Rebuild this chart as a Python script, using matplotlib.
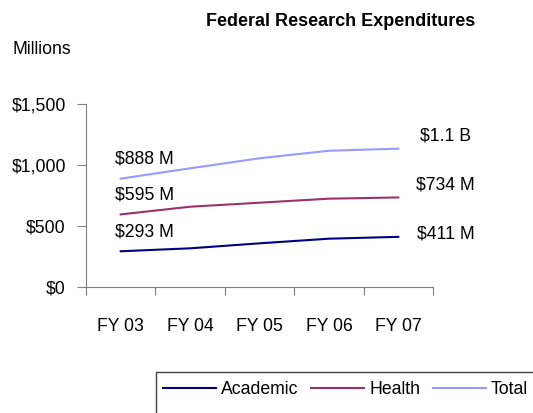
import matplotlib
matplotlib.use("Agg")
import matplotlib.pyplot as plt
from matplotlib.patches import Rectangle

plt.rcParams['font.family'] = ['Liberation Sans', 'DejaVu Sans']

# Federal research expenditures, millions of dollars
years = ['FY 03', 'FY 04', 'FY 05', 'FY 06', 'FY 07']
academic = [293, 317, 358, 396, 411]
health = [595, 658, 691, 724, 734]
total = [888, 973, 1055, 1117, 1134]

start_labels = ['$293 M', '$595 M', '$888 M']
end_labels = ['$411 M', '$734 M', '$1.1 B']

W, H = 533, 413
fig = plt.figure(figsize=(W/100, H/100), dpi=100)
ax = fig.add_axes([86/W, 1 - 287/H, (433 - 86)/W, (287 - 104)/H])

xs = [i + 0.5 for i in range(len(years))]
series = [('Academic', academic, '#000080'),
          ('Health', health, '#993366'),
          ('Total', total, '#9999FF')]
for name, vals, col in series:
    ax.plot(xs, vals, color=col, lw=1.5, label=name)

# value labels at both ends
fs = 12.7
for (name, vals, col), lab in zip(series, start_labels):
    ax.annotate(lab, (xs[0], vals[0]), xytext=(17, 14), textcoords='offset points',
                ha='center', va='center', fontsize=fs)
end_dy = [2, 9, 9]
for (name, vals, col), lab, dy in zip(series, end_labels, end_dy):
    ax.annotate(lab, (xs[-1], vals[-1]), xytext=(34, dy), textcoords='offset points',
                ha='center', va='center', fontsize=fs)

ax.set_xlim(0, 5)
ax.set_ylim(0, 1500)
ax.set_yticks([0, 500, 1000, 1500])
ax.set_yticklabels(['$0', '$500', '$1,000', '$1,500'], fontsize=fs)
ax.set_xticks(range(6))
ax.set_xticklabels([])
ax.set_xticks(xs, minor=True)
ax.set_xticklabels(years, minor=True, fontsize=fs)
ax.tick_params(axis='x', which='major', length=6, direction='out', color='#808080')
ax.tick_params(axis='x', which='minor', length=0, pad=22)
ax.tick_params(axis='y', length=6.5, pad=8, color='#808080')

for s in ['top', 'right']:
    ax.spines[s].set_visible(False)
for s in ['left', 'bottom']:
    ax.spines[s].set_color('#808080')

fig.text(341/W, 1 - 22/H, 'Federal Research Expenditures', ha='center', va='center',
         fontsize=13, fontweight='bold')
fig.text(12/W, 1 - 50/H, 'Millions', ha='left', va='center', fontsize=fs)

# legend box runs off the bottom and right edge of the picture
fig.patches.append(Rectangle((156/W, -0.05), 1.0, 1 - 372/H + 0.05, transform=fig.transFigure,
                             facecolor='white', edgecolor='#404040', lw=1))
leg = fig.legend(loc='center left', bbox_to_anchor=(156/W, 1 - 390/H), ncol=3,
                 fontsize=fs, handlelength=3, handletextpad=0.3, columnspacing=0.7,
                 borderpad=0.4, frameon=False, borderaxespad=0)

fig.savefig('out.png', dpi=100)
